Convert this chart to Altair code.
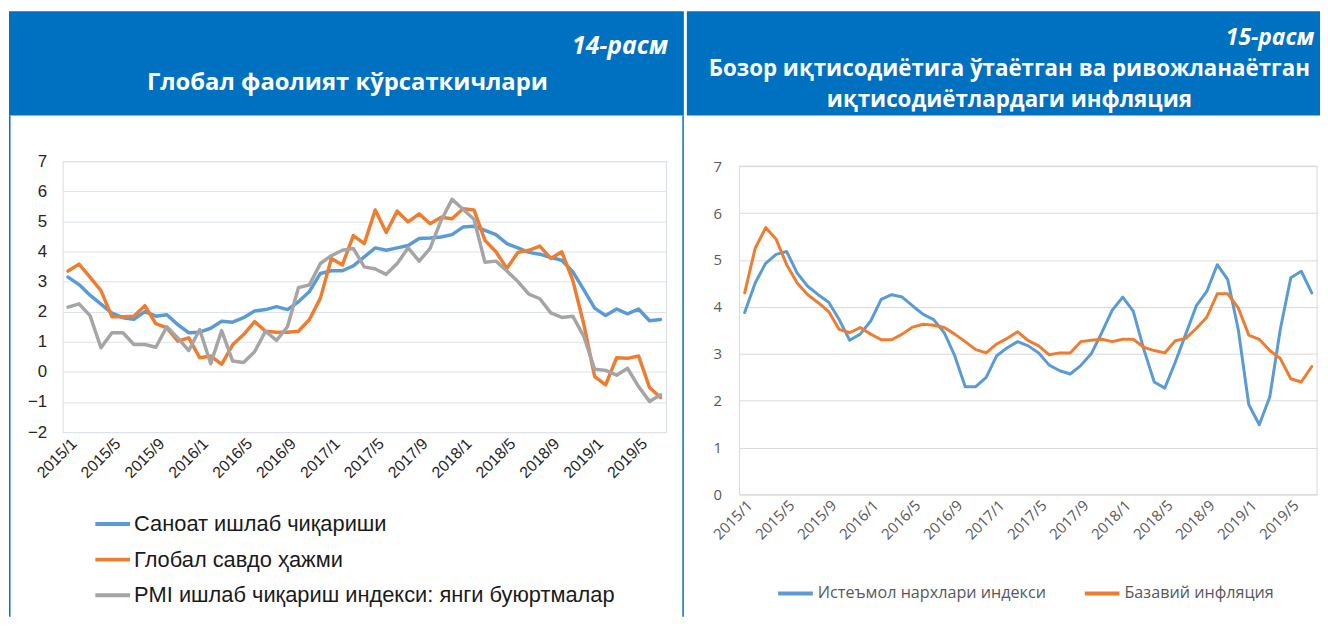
import altair as alt
import pandas as pd

# ---------------- data ----------------
months = [f"{y}/{m}" for y in range(2015, 2020) for m in range(1, 13)][:55]
tick_labels = months[::4]

left_names = ["Саноат ишлаб чиқариши", "Глобал савдо ҳажми",
              "PMI ишлаб чиқариш индекси: янги буюртмалар"]
industrial = [3.15, 2.9, 2.55, 2.25, 1.95, 1.8, 1.75, 2.0, 1.85, 1.9, 1.57, 1.3, 1.32, 1.45,
              1.68, 1.65, 1.8, 2.02, 2.07, 2.17, 2.07, 2.33, 2.67, 3.27, 3.36, 3.36, 3.52,
              3.82, 4.12, 4.04, 4.12, 4.2, 4.43, 4.45, 4.48, 4.56, 4.81, 4.84, 4.7, 4.56,
              4.26, 4.12, 3.97, 3.91, 3.8, 3.71, 3.33, 2.73, 2.12, 1.87, 2.09, 1.93, 2.09,
              1.7, 1.74]
trade = [3.35, 3.58, 3.15, 2.7, 1.83, 1.83, 1.85, 2.2, 1.6, 1.46, 1.02, 1.13, 0.47, 0.53,
         0.25, 0.9, 1.24, 1.67, 1.35, 1.32, 1.32, 1.35, 1.74, 2.45, 3.77, 3.55, 4.53,
         4.26, 5.38, 4.63, 5.34, 4.98, 5.25, 4.92, 5.14, 5.09, 5.42, 5.38, 4.37, 3.99,
         3.44, 3.97, 4.04, 4.18, 3.77, 3.99, 3.05, 1.6, -0.16, -0.43, 0.47, 0.45, 0.53,
         -0.52, -0.85]
pmi = [2.15, 2.26, 1.87, 0.8, 1.3, 1.3, 0.91, 0.91, 0.82, 1.5, 1.13, 0.71, 1.41, 0.27,
       1.37, 0.36, 0.31, 0.67, 1.35, 1.05, 1.5, 2.8, 2.89, 3.6, 3.86, 4.04, 4.1,
       3.49, 3.42, 3.24, 3.6, 4.12, 3.68, 4.1, 5.03, 5.73, 5.4, 5.07, 3.64, 3.68,
       3.35, 3.0, 2.58, 2.43, 1.96, 1.81, 1.85, 1.19, 0.09, 0.05, -0.11, 0.12, -0.49,
       -0.98, -0.76]

right_names = ["Истеъмол нархлари индекси", "Базавий инфляция"]
cpi = [3.88, 4.51, 4.93, 5.12, 5.18, 4.72, 4.44, 4.26, 4.1, 3.73, 3.29, 3.42, 3.7, 4.16,
       4.26, 4.21, 4.02, 3.84, 3.73, 3.45, 2.96, 2.3, 2.3, 2.5, 2.96, 3.13,
       3.26, 3.17, 3.02, 2.76, 2.64, 2.57, 2.75, 3.0, 3.45, 3.93, 4.21, 3.91, 3.1, 2.4,
       2.27, 2.82, 3.42, 4.02, 4.33, 4.9, 4.58, 3.52, 1.92, 1.49, 2.08, 3.52, 4.62,
       4.76, 4.3]
core = [4.3, 5.25, 5.69, 5.44, 4.9, 4.51, 4.26, 4.09, 3.9, 3.52, 3.45, 3.56, 3.42, 3.3,
        3.3, 3.42, 3.57, 3.63, 3.61, 3.56, 3.42, 3.26, 3.09, 3.02, 3.21, 3.33,
        3.47, 3.28, 3.17, 2.98, 3.02, 3.02, 3.26, 3.29, 3.31, 3.26, 3.31, 3.31, 3.14,
        3.07, 3.02, 3.28, 3.33, 3.54, 3.78, 4.28, 4.28, 3.98, 3.4, 3.31, 3.07, 2.9,
        2.47, 2.4, 2.73]

left_colors = ["#5B9BD5", "#ED7D31", "#A5A5A5"]
right_colors = ["#5B9BD5", "#ED7D31"]

HEADER = "#0070C0"
FONT_L = "Liberation Sans"
FONT_R = "Open Sans"
FONT_H = "Open Sans"


def long_df(names, series):
    rows = []
    for k, (n, vals) in enumerate(zip(names, series)):
        for i, v in enumerate(vals):
            rows.append({"month": months[i], "series": n, "value": v, "k": k})
    return pd.DataFrame(rows)


left_df = long_df(left_names, [industrial, trade, pmi])
right_df = long_df(right_names, [cpi, core])
one = pd.DataFrame({"k": [0]})

# ---------------- left panel ----------------
LW, LH = 608, 273

l_lines = alt.Chart(left_df).mark_line(strokeWidth=3.5, strokeJoin="round", strokeCap="round").encode(
    x=alt.X("month:O", title=None,
            scale=alt.Scale(type="point", padding=0.5, domain=months),
            axis=alt.Axis(values=tick_labels, labelAngle=315, labelFont=FONT_L, labelFontSize=16,
                          labelColor="#262626", ticks=False, domain=False, grid=False,
                          labelPadding=3)),
    y=alt.Y("value:Q", title=None, scale=alt.Scale(domain=[-2, 7], nice=False, zero=False),
            axis=alt.Axis(values=list(range(-2, 8)), grid=True, gridColor="#DCE3EC",
                          ticks=False, domain=False, labelFont=FONT_L, labelFontSize=17,
                          labelColor="#262626", labelPadding=16)),
    color=alt.Color("series:N", scale=alt.Scale(domain=left_names, range=left_colors),
                    legend=alt.Legend(orient="none", legendX=31, legendY=346, direction="vertical",
                                      title=None, symbolType="stroke", symbolSize=1225,
                                      symbolStrokeWidth=4, labelFont=FONT_L, labelFontSize=22,
                                      labelColor="#1a1a1a", labelLimit=0, rowPadding=5,
                                      labelOffset=2, padding=0)),
    order="k:Q",
)

l_head = alt.Chart(one).mark_rect(color=HEADER).encode(
    x=alt.value(-54), x2=alt.value(626), y=alt.value(-151), y2=alt.value(-46))
l_num = alt.Chart(one).mark_text(text="14-расм", font=FONT_H, fontSize=25, fontWeight="bold",
                                 fontStyle="italic", color="white", align="right",
                                 baseline="alphabetic").encode(x=alt.value(610), y=alt.value(-108))
l_title = alt.Chart(one).mark_text(text="Глобал фаолият кўрсаткичлари", font=FONT_H, fontSize=24,
                                   fontWeight="bold", color="white", align="center",
                                   baseline="alphabetic").encode(x=alt.value(287), y=alt.value(-72))
l_rule1 = alt.Chart(one).mark_rule(color=HEADER, strokeWidth=1.5).encode(
    x=alt.value(-53.2), y=alt.value(-46), y2=alt.value(459))
l_rule2 = alt.Chart(one).mark_rule(color=HEADER, strokeWidth=1.5).encode(
    x=alt.value(625.2), y=alt.value(-46), y2=alt.value(459))

left = alt.layer(l_head, l_num, l_title, l_rule1, l_rule2, l_lines).properties(
    width=LW, height=LH, view=alt.ViewBackground(stroke="#D6DCE4", strokeWidth=1))

# ---------------- right panel ----------------
# plot area shares its top with the left panel; the y range starts 5 px lower
RW, RH = 582, 336
R_TOP = 5

r_lines = alt.Chart(right_df).mark_line(strokeWidth=3, strokeJoin="round", strokeCap="round").encode(
    x=alt.X("month:O", title=None,
            scale=alt.Scale(type="point", padding=0.5, domain=months),
            axis=alt.Axis(values=tick_labels, labelAngle=315, labelFont=FONT_R, labelFontSize=15,
                          labelColor="#595959", ticks=False, domain=False, grid=False,
                          labelPadding=3)),
    y=alt.Y("value:Q", title=None, scale=alt.Scale(domain=[0, 7], nice=False, range=[RH, R_TOP]),
            axis=alt.Axis(values=list(range(0, 8)), grid=True, gridColor="#D9D9D9",
                          ticks=False, domain=False, labelFont=FONT_R, labelFontSize=15,
                          labelColor="#595959", labelPadding=18)),
    color=alt.Color("series:N", scale=alt.Scale(domain=right_names, range=right_colors),
                    legend=alt.Legend(orient="none", legendX=37, legendY=416, direction="horizontal",
                                      title=None, symbolType="stroke", symbolSize=1225,
                                      symbolStrokeWidth=4, labelFont=FONT_R, labelFontSize=16.3,
                                      labelColor="#595959", labelLimit=0, columnPadding=31,
                                      labelOffset=3, padding=0)),
    order="k:Q",
)

r_frame = alt.Chart(one).mark_rect(filled=False, stroke="#D9D9D9", strokeWidth=1).encode(
    x=alt.value(0), x2=alt.value(RW), y=alt.value(R_TOP), y2=alt.value(RH))
r_head = alt.Chart(one).mark_rect(color=HEADER).encode(
    x=alt.value(-53), x2=alt.value(585), y=alt.value(-151), y2=alt.value(-46))
r_num = alt.Chart(one).mark_text(text="15-расм", font=FONT_H, fontSize=23, fontWeight="bold",
                                 fontStyle="italic", color="white", align="right",
                                 baseline="alphabetic").encode(x=alt.value(579), y=alt.value(-117))
r_t1 = alt.Chart(one).mark_text(text="Бозор иқтисодиётига ўтаётган ва ривожланаётган", font=FONT_H,
                                fontSize=22.5, fontWeight="bold", color="white", align="center",
                                baseline="alphabetic").encode(x=alt.value(272), y=alt.value(-86))
r_t2 = alt.Chart(one).mark_text(text="иқтисодиётлардаги инфляция", font=FONT_H,
                                fontSize=22.5, fontWeight="bold", color="white", align="center",
                                baseline="alphabetic").encode(x=alt.value(272), y=alt.value(-55))

right = alt.layer(r_head, r_num, r_t1, r_t2, r_frame, r_lines).properties(
    width=RW, height=RH, view=alt.ViewBackground(strokeOpacity=0))

chart = alt.concat(left, right, columns=2, spacing=2).properties(
    align="none",
    padding={"left": 0, "top": 0, "right": 0, "bottom": 0},
    background="white",
).resolve_scale(color="independent", x="independent", y="independent")

chart.save("out.html", embed_options={"renderer": "svg", "actions": False})
